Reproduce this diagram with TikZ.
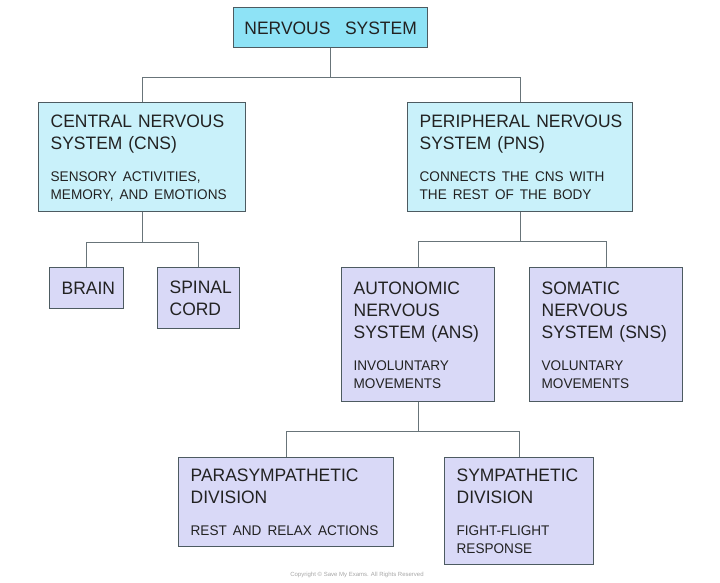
\documentclass[tikz,border=0pt]{standalone}
\usepackage{fontspec}
\setmainfont{Liberation Sans}[WordSpace=3, FakeStretch=0.97]
\newfontfamily\plainsans{Liberation Sans}
\definecolor{nsblue}{HTML}{8EE3F6}
\definecolor{cnsblue}{HTML}{C9F1FA}
\definecolor{lilac}{HTML}{D9D9F7}
\definecolor{rim}{HTML}{4D5B61}
\definecolor{ink}{HTML}{222222}
\newcommand{\boxhead}{\fontsize{18}{22}\selectfont}
\newcommand{\boxnote}{\fontsize{14}{18}\selectfont}
% rows of a box: head lines, then the smaller note lines
\newcommand{\panelrows}[1]{\begin{tabular}[t]{@{}l@{}}#1\\[-6.6pt]\end{tabular}}
\newcommand{\notestart}{\\[10pt]\boxnote}
\newcommand{\noteline}{\\[-4pt]\boxnote}

\begin{document}
\begin{tikzpicture}[x=1pt, y=-1pt]
				\tikzstyle{panel} = [draw=rim, line width=1.3pt, anchor=north west, inner xsep=12pt, inner ysep=0pt, align=left, text=ink, font=\boxhead, text height=13pt]
				\tikzstyle{cyanpanel} = [panel, fill=cnsblue]
				\tikzstyle{lilapanel} = [panel, fill=lilac]
				\tikzstyle{link} = [draw=rim!85, line width=1.2pt]
				
				\useasboundingbox (0,0) rectangle (720,582);
				
				\node[panel, fill=nsblue, align=center, inner xsep=4pt, text depth=0pt, minimum width=194pt, minimum height=40pt] at (233,7) (ns) {NERVOUS SYSTEM};
				\node[cyanpanel, text width=183pt, minimum height=109pt] at (38,102) (cns) {\panelrows{CENTRAL NERVOUS\\SYSTEM (CNS)\notestart SENSORY ACTIVITIES,\noteline MEMORY, AND EMOTIONS}};
				\node[cyanpanel, text width=201pt, minimum height=109pt] at (407,102) (pns) {\panelrows{PERIPHERAL NERVOUS\\SYSTEM (PNS)\notestart CONNECTS THE CNS WITH\noteline THE REST OF THE BODY}};
				\node[lilapanel, text width=50pt, minimum height=41pt] at (49,267) (brain) {\panelrows{BRAIN}};
				\node[lilapanel, text width=58pt, minimum height=61pt] at (157,267) (cord) {\panelrows{SPINAL\\CORD}};
				\node[lilapanel, text width=129pt, minimum height=134pt] at (341,267) (ans) {\panelrows{AUTONOMIC\\NERVOUS\\SYSTEM (ANS)\notestart INVOLUNTARY\noteline MOVEMENTS}};
				\node[lilapanel, text width=129pt, minimum height=134pt] at (529,267) (sns) {\panelrows{SOMATIC\\NERVOUS\\SYSTEM (SNS)\notestart VOLUNTARY\noteline MOVEMENTS}};
				\node[lilapanel, text width=191pt, minimum height=89pt] at (178,457) (para) {\panelrows{PARASYMPATHETIC\\DIVISION\notestart REST AND RELAX ACTIONS}};
				\node[lilapanel, text width=125pt, minimum height=107pt] at (444,457) (symp) {\panelrows{SYMPATHETIC\\DIVISION\notestart FIGHT-FLIGHT\noteline RESPONSE}};
				\node[font=\plainsans\fontsize{6}{7}\selectfont, text=gray!70] at (357,575) (copy) {Copyright © Save My Exams. All Rights Reserved};
				
				\draw[link] (ns.south) -- ++(0,29) -| (cns.north);
				\draw[link] (ns.south) -- ++(0,29) -| (pns.north);
				\draw[link] (cns.south) -- ++(0,30) -| (brain.north);
				\draw[link] (cns.south) -- ++(0,30) -| (cord.north);
				\draw[link] (pns.south) -- ++(0,29) -| (ans.north);
				\draw[link] (pns.south) -- ++(0,29) -| (sns.north);
				\draw[link] (ans.south) -- ++(0,29) -| (para.north);
				\draw[link] (ans.south) -- ++(0,29) -| (symp.north);
\end{tikzpicture}
\end{document}
